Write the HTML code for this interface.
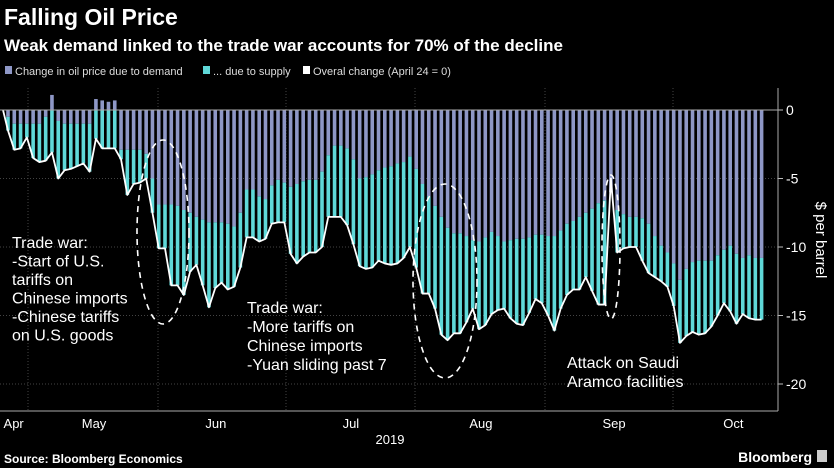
<!DOCTYPE html>
<html><head><meta charset="utf-8"><style>
body{margin:0;background:#000;width:834px;height:468px;overflow:hidden;font-family:"Liberation Sans",sans-serif;color:#fff}
svg{position:absolute;left:0;top:0}
</style></head><body>
<svg width="834" height="468" id="chart">
<rect width="834" height="468" fill="#000"/>
<text x="4" y="25" font-size="23" font-weight="bold" fill="#fff">Falling Oil Price</text>
<text x="4" y="51" font-size="17" font-weight="bold" fill="#fff">Weak demand linked to the trade war accounts for 70% of the decline</text>
<g font-size="11" fill="#ddd">
<g><rect x="5" y="66" width="7" height="8" fill="#8e97c6"/><text x="15" y="75">Change in oil price due to demand</text></g>
<g><rect x="203" y="66" width="7" height="8" fill="#5fd8d8"/><text x="213" y="75">... due to supply</text></g>
<g><rect x="303" y="66" width="7" height="8" fill="#fff"/><text x="313" y="75">Overal change (April 24 = 0)</text></g>
</g>
<g id="grid"></g>
<g id="bars"></g>
<polyline id="line" fill="none" stroke="#fff" stroke-width="1.8" stroke-linejoin="round"/>
<g id="axis"></g>
<g fill="none" stroke="#fff" stroke-width="1.6" stroke-dasharray="6,5">
<ellipse cx="163" cy="232" rx="26" ry="92"/>
<ellipse cx="445" cy="281" rx="32" ry="97"/>
<ellipse cx="611" cy="247" rx="9" ry="72"/>
</g>
<g font-size="16" fill="#fff">
<text><tspan x="12" y="248">Trade war:</tspan><tspan x="12" y="266.5">-Start of U.S.</tspan><tspan x="12" y="285">tariffs on</tspan><tspan x="12" y="303.5">Chinese imports</tspan><tspan x="12" y="322">-Chinese tariffs</tspan><tspan x="12" y="340.5">on U.S. goods</tspan></text>
<text><tspan x="247" y="313">Trade war:</tspan><tspan x="247" y="332">-More tariffs on</tspan><tspan x="247" y="351">Chinese imports</tspan><tspan x="247" y="370">-Yuan sliding past 7</tspan></text>
<text><tspan x="567" y="368">Attack on Saudi</tspan><tspan x="567" y="387">Aramco facilities</tspan></text>
</g>
<text x="816" y="240" font-size="15" fill="#fff" transform="rotate(90 816 240)" text-anchor="middle">$ per barrel</text>
<text x="390" y="444" font-size="13" fill="#fff" text-anchor="middle">2019</text>
<text x="4" y="463" font-size="12" font-weight="bold" fill="#fff">Source: Bloomberg Economics</text>
<text x="812" y="462" font-size="14" font-weight="bold" fill="#fff" text-anchor="end">Bloomberg</text>
<rect x="817" y="450" width="10" height="12" fill="#ccc"/>
</svg>
<script>
const total=[-1.5,-2.9,-2.8,-2,-3.5,-3.8,-3.7,-3.1,-5,-4.4,-4.3,-4.1,-3.9,-4.5,-2.1,-2.8,-2.8,-2.8,-3.6,-6.2,-5.4,-5.3,-5.0,-7.5,-10.1,-10.1,-12.8,-12.8,-13.5,-11.8,-11.3,-12.8,-14.4,-13,-12.6,-13.1,-12.9,-11.5,-9.3,-9.3,-9.6,-9.4,-8.3,-8.2,-8.2,-10.5,-11.2,-10.7,-10.4,-10.4,-10,-7.8,-7.8,-7.8,-8.4,-9.8,-11.4,-11.6,-11.5,-11.0,-11.2,-11.3,-11.2,-10.8,-10.0,-11.5,-13.4,-13.4,-14.5,-16.4,-16.8,-16.3,-16.3,-15.5,-14.5,-16,-15.7,-14.9,-14.6,-14.5,-15.2,-15.6,-15.7,-14.8,-13.8,-14.1,-15,-16.1,-14.5,-13.5,-13.1,-13.1,-12.2,-13.2,-14.2,-14.2,-5,-10.4,-10.1,-10,-10,-11,-11.9,-12.2,-12.5,-12.9,-14.3,-17,-16.5,-16.2,-16.4,-16.3,-15.8,-15,-14.1,-14.7,-15.6,-14.9,-15.2,-15.3,-15.3];
const demand=[-0.5,-1,-1,-1,-1,-1,-0.5,1.1,-0.8,-1,-1,-1,-1,-1,0.8,0.7,0.6,0.7,-2.9,-2.9,-2.9,-2.9,-3.2,-5,-6.9,-6.9,-6.9,-7,-7.3,-7.5,-7.8,-8,-8.2,-8.2,-8.2,-8.3,-8.5,-7.5,-5.8,-5.8,-6.3,-6.5,-5.5,-5.1,-5.3,-5.6,-5.4,-5.2,-5.1,-5.1,-4.5,-3.3,-2.6,-2.6,-2.8,-3.6,-5,-4.9,-4.7,-4.4,-4.2,-4.1,-3.9,-3.8,-3.4,-4.3,-5.4,-6.3,-7,-7.8,-8.6,-9,-9,-9.2,-9.5,-9.6,-9.3,-8.9,-9.2,-9.6,-9.5,-9.4,-9.4,-9.3,-9.1,-9.1,-9.2,-9.2,-8.8,-8.3,-8.1,-7.8,-7.5,-7.2,-6.8,-6.6,-6,-7.3,-7.6,-7.8,-7.8,-7.9,-8.3,-9.2,-9.9,-10.4,-11.2,-12.4,-11.6,-11.1,-11,-11,-11,-10.6,-10.2,-9.9,-10.5,-10.8,-10.6,-10.8,-10.8];
const yTicks=[0,-5,-10,-15,-20];
const months=["Apr","May","Jun","Jul","Aug","Sep","Oct"];
const monthPos=[0.9,13.7,33.1,54.6,75.3,96.5,115.5];
const NS="http://www.w3.org/2000/svg";
const y=v=>110-v*13.7;
const x=i=>8+i*6.28;
function mk(tag,parent,attrs){const e=document.createElementNS(NS,tag);for(const k in attrs)e.setAttribute(k,attrs[k]);parent.appendChild(e);return e;}
const grid=document.getElementById('grid'),bars=document.getElementById('bars'),axis=document.getElementById('axis');
yTicks.forEach(t=>{
 if(t!==0){const l=mk('line',grid,{x1:0,x2:778,y1:y(t),y2:y(t),stroke:'#444','stroke-dasharray':'1,2'});
 
 }
 const tk=mk('line',axis,{x1:778,x2:783,y1:y(t),y2:y(t),stroke:'#bbb'});
 
 
 const tx=mk('text',axis,{x:786,y:y(t)+5,'font-size':14,fill:'#fff'});tx.textContent=t;
 
 
});
[28,158,286,415,545,673].forEach(gx=>{const l=mk('line',grid,{x1:gx,x2:gx,y1:88,y2:411,stroke:'#444','stroke-dasharray':'1,2'});
 
 });
total.forEach((t,i)=>{
 const d=demand[i],cx=x(i),w=3.6;
 const top=Math.min(y(0),y(d)),h=Math.abs(y(d)-y(0));
 const r1=mk('rect',bars,{x:cx-w/2,y:top,width:w,height:h,fill:'#8e97c6'});
 
 
 const s=Math.min(0,d);
 const r2=mk('rect',bars,{x:cx-w/2,y:y(s),width:w,height:Math.max(0,y(t)-y(s)),fill:'#5fd8d8'});
 
 
});
document.getElementById('line').setAttribute('points',"3,"+y(0)+" "+total.map((t,i)=>x(i)+","+y(t)).join(" "));
const z=mk('line',axis,{x1:0,x2:778,y1:y(0),y2:y(0),stroke:'#aaa','stroke-width':1});


const xa=mk('line',axis,{x1:0,x2:778,y1:411,y2:411,stroke:'#aaa'});


const ya=mk('line',axis,{x1:778,x2:778,y1:88,y2:411,stroke:'#aaa'});


months.forEach((m,i)=>{const t=mk('text',axis,{x:x(monthPos[i]),y:428,'font-size':13,fill:'#fff','text-anchor':'middle'});t.textContent=m;
 
 });
</script>
</body></html>
